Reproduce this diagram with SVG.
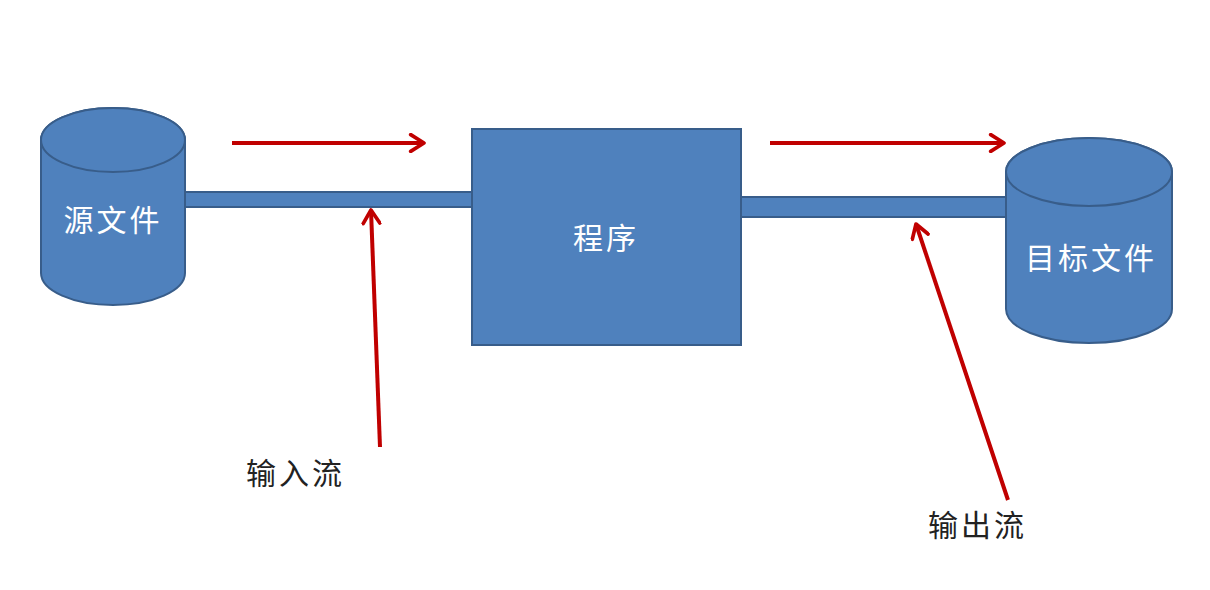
<svg xmlns="http://www.w3.org/2000/svg" width="1210" height="590" viewBox="0 0 1210 590">
<defs>
<style>
.shape{fill:#4f81bd;stroke:#385d8a;stroke-width:2}
.lbl{font-family:"Liberation Sans","Noto Sans CJK SC",sans-serif;font-size:30px;letter-spacing:3px;fill:#ffffff;text-anchor:middle}
.cap{font-family:"Liberation Sans","Noto Sans CJK SC",sans-serif;font-size:30px;letter-spacing:3px;fill:#222222}
.arr{stroke:#c00000;stroke-width:4;fill:none;marker-end:url(#head)}
</style>
<marker id="head" viewBox="0 0 12 12" refX="10" refY="6" markerWidth="5" markerHeight="5" orient="auto" markerUnits="strokeWidth">
<path d="M2,1 L10,6 L2,11" fill="none" stroke="#c00000" stroke-width="2.2" stroke-linecap="round" stroke-linejoin="round"/>
</marker>
</defs>
<rect width="1210" height="590" fill="#ffffff"/>
<g id="pipes">
<rect class="shape" x="185" y="192" width="288" height="15"/>
<rect class="shape" x="740" y="197" width="268" height="20"/>
</g>
<g id="source">
<path class="shape" d="M41,140 L41,273 A72,32 0 0 0 185,273 L185,140 A72,32 0 0 0 41,140 Z"/>
<ellipse class="shape" cx="113" cy="140" rx="72" ry="32"/>
<text class="lbl" x="113" y="231">源文件</text>
</g>
<g id="program">
<rect class="shape" x="472" y="129" width="269" height="216"/>
<text class="lbl" x="606" y="249">程序</text>
</g>
<g id="target">
<path class="shape" d="M1006,172 L1006,309 A83,34 0 0 0 1172,309 L1172,172 A83,34 0 0 0 1006,172 Z"/>
<ellipse class="shape" cx="1089" cy="172" rx="83" ry="34"/>
<text class="lbl" x="1091" y="269">目标文件</text>
</g>
<g id="connectors">
<line class="arr" x1="232" y1="143" x2="424" y2="143"/>
<line class="arr" x1="770" y1="143" x2="1004" y2="143"/>
<line class="arr" x1="380" y1="447" x2="371" y2="210"/>
<line class="arr" x1="1008" y1="500" x2="916" y2="224"/>
</g>
<g id="labels">
<text class="cap" x="246" y="484">输入流</text>
<text class="cap" x="928" y="536">输出流</text>
</g>
</svg>
